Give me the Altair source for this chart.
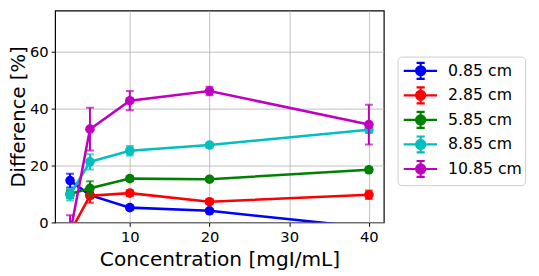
import altair as alt
import pandas as pd

conc = [2.5, 5, 10, 20, 40]
series = ["0.85 cm", "2.85 cm", "5.85 cm", "8.85 cm", "10.85 cm"]
colors = ["#0000ff", "#ff0000", "#008000", "#00bfbf", "#bf00bf"]

v_085 = [14.7, 9.6, 5.2, 4.1, -1.8]
v_285 = [-3.5, 9.4, 10.3, 7.3, 9.7]
v_585 = [10.0, 12.0, 15.4, 15.2, 18.5]
v_885 = [9.7, 21.3, 25.2, 27.2, 32.6]
v_1085 = [-4.0, 32.8, 42.8, 46.2, 34.4]

e_085 = [2.4, 1.0, 0.8, 0.6, 1.0]
e_285 = [3.0, 2.5, 1.0, 0.8, 1.5]
e_585 = [1.5, 2.5, 0.8, 0.6, 0.8]
e_885 = [2.0, 2.7, 1.7, 0.8, 1.2]
e_1085 = [6.5, 7.5, 3.4, 1.5, 7.0]

values = [v_085, v_285, v_585, v_885, v_1085]
errors = [e_085, e_285, e_585, e_885, e_1085]

rows = []
for s, vs, es in zip(series, values, errors):
    for c, v, e in zip(conc, vs, es):
        rows.append({"series": s, "conc": c, "val": v, "lo": v - e, "hi": v + e})
df = pd.DataFrame(rows)

FONT = "DejaVu Sans"
xs = alt.Scale(domain=[0.625, 41.875], nice=False, zero=False)
ys = alt.Scale(domain=[0, 74.5], nice=False, zero=False)
cs = alt.Scale(domain=series, range=colors)

X = alt.X("conc:Q", scale=xs, title="Concentration [mgI/mL]",
          axis=alt.Axis(values=[10, 20, 30, 40], grid=True))
Y = alt.Y("val:Q", scale=ys, title="Difference [%]",
          axis=alt.Axis(values=[0, 20, 40, 60], grid=True))

sym_path = ("M-0.81,0H2.54M0.89,-0.8V0.8M0.48,-0.8H1.3M0.48,0.8H1.3"
            "M0.43,0A0.46,0.46 0 1,1 1.35,0A0.46,0.46 0 1,1 0.43,0Z")

leg = alt.Legend(
    title=None, orient="none", legendX=349, legendY=47,
    symbolType=sym_path, symbolSize=412, symbolStrokeWidth=2.2,
    symbolOpacity=1,
    labelFontSize=16, labelFont=FONT, labelOffset=25.5, rowPadding=-7,
    padding=3, strokeColor="#cccccc", fillColor="white", cornerRadius=4,
    labelColor="black")

# invisible layer that only carries the legend
legend_layer = alt.Chart(df).mark_point(filled=True, opacity=0).encode(
    x=X, y=Y,
    fill=alt.Fill("series:N", scale=cs, legend=leg),
    stroke=alt.Stroke("series:N", scale=cs, legend=leg))

layers = [legend_layer]
for s, c in zip(series, colors):
    base = alt.Chart(df).transform_filter(alt.datum.series == s)
    bar = base.mark_rule(strokeWidth=2, clip=True, color=c).encode(
        x="conc:Q", y=alt.Y("lo:Q", scale=ys), y2="hi:Q")
    cap_lo = base.mark_tick(orient="horizontal", size=8, thickness=2, clip=True, color=c).encode(
        x="conc:Q", y=alt.Y("lo:Q", scale=ys))
    cap_hi = base.mark_tick(orient="horizontal", size=8, thickness=2, clip=True, color=c).encode(
        x="conc:Q", y=alt.Y("hi:Q", scale=ys))
    line = base.mark_line(strokeWidth=2.6, clip=True, color=c).encode(
        x="conc:Q", y="val:Q")
    pts = base.mark_point(filled=True, size=95, opacity=1, clip=True, color=c).encode(
        x="conc:Q", y="val:Q")
    layers += [line, bar, cap_lo, cap_hi, pts]

chart = alt.layer(*layers).properties(
    width=335, height=216,
    autosize=alt.AutoSizeParams(type="none"),
    padding={"left": 48, "top": 0, "right": 150, "bottom": 50},
).configure_view(stroke="black", strokeWidth=1.2).configure_axis(
    labelFont=FONT, titleFont=FONT, labelFontSize=15, titleFontSize=20,
    titleFontWeight="normal", labelColor="black", titleColor="black",
    domain=False, tickColor="black", tickSize=4, labelPadding=3,
    gridColor="#b0b0b0", gridWidth=0.8,
).configure_axisX(titlePadding=6, titleFontSize=20.5).configure_axisY(titlePadding=1)

chart.save("out.html", embed_options={"renderer": "svg", "actions": False})
